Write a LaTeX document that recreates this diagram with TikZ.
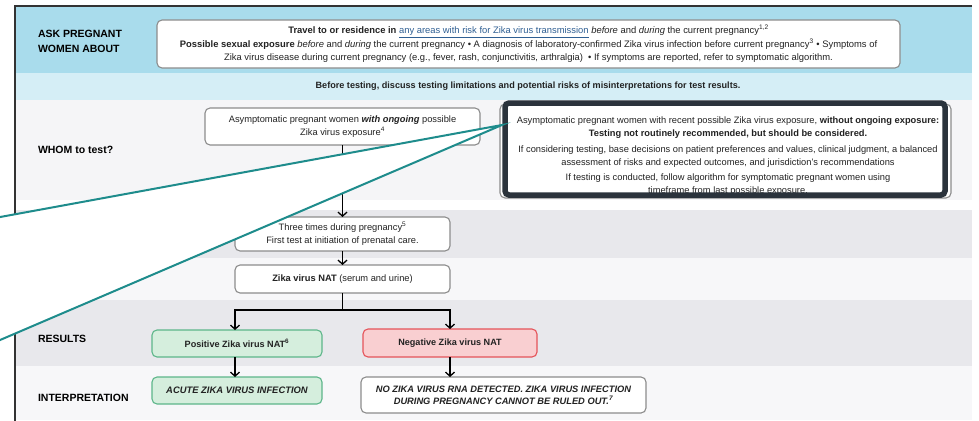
\documentclass[tikz,border=0pt]{standalone}
\usepackage{fontspec}
\setmainfont{Liberation Sans}
\usetikzlibrary{arrows.meta}

\definecolor{bandblue}{HTML}{A9DCEC}
\definecolor{bandlightblue}{HTML}{D5EEF6}
\definecolor{bandwhom}{HTML}{F5F5F7}
\definecolor{bandgrey}{HTML}{E8E8EC}
\definecolor{bandpale}{HTML}{F7F7F9}
\definecolor{framecol}{HTML}{333333}
\definecolor{boxgrey}{HTML}{8C8C8C}
\definecolor{inkcol}{HTML}{222222}
\definecolor{linkblue}{HTML}{2F5F93}
\definecolor{posfill}{HTML}{D5EEDD}
\definecolor{posline}{HTML}{5DB68A}
\definecolor{negfill}{HTML}{F9CFD1}
\definecolor{negline}{HTML}{E5545A}
\definecolor{focusdark}{HTML}{2B333C}
\definecolor{calloutteal}{HTML}{1E8C8C}

\newcommand{\linktext}[1]{\textcolor{linkblue}{\underline{#1}}}

\begin{document}
\begin{tikzpicture}[x=1pt,y=-1pt,
  every node/.style={inner sep=0pt, outer sep=0pt, text=inkcol},
  rowlabel/.style={anchor=west, align=left, text=black, font=\bfseries\fontsize{10.5}{15}\selectfont},
  flowbox/.style={draw=boxgrey, line width=1.1pt, rounded corners=5pt, fill=white, align=center, font=\fontsize{9.3}{13}\selectfont},
  posbox/.style={flowbox, draw=posline, fill=posfill},
  negbox/.style={flowbox, draw=negline, fill=negfill},
  flow/.style={line width=1.3pt, -{Straight Barb[length=4pt,width=9pt]}},
  callout/.style={draw=calloutteal, line width=2pt, line join=miter}]

\useasboundingbox (0,0) rectangle (979,420);
\clip (0,0) rectangle (979,420);
\fill[white] (0,0) rectangle (979,420);

% horizontal bands of the chart
\fill[bandblue]      (16,7)   rectangle (972,73);
\fill[bandlightblue] (16,73)  rectangle (972,100);
\fill[bandwhom]      (16,100) rectangle (972,200);
\fill[bandgrey]      (16,210) rectangle (972,258);
\fill[bandpale]      (16,258) rectangle (972,300);
\fill[bandgrey]      (16,300) rectangle (972,366);
\fill[bandpale]      (16,366) rectangle (972,420);

% frame
\draw[framecol, line width=1.5pt] (972,6) -- (15,6) -- (15,421);

% row labels
\node[rowlabel] (lblask) at (38,41) {ASK PREGNANT\\WOMEN ABOUT};
\node[rowlabel] (lblwhom) at (38,150) {WHOM to test?};
\node[rowlabel] (lblres) at (38,339) {RESULTS};
\node[rowlabel] (lblint) at (38,398) {INTERPRETATION};

% questions to ask
\node[flowbox, minimum width=743pt, minimum height=48pt, font=\fontsize{9.4}{13.5}\selectfont] (ask) at (528.5,44) {%
\textbf{Travel to or residence in} \linktext{any areas with risk for Zika virus transmission} \textit{before} and \textit{during} the current pregnancy\textsuperscript{1,2}\\
\textbf{Possible sexual exposure} \textit{before} and \textit{during} the current pregnancy • A diagnosis of laboratory-confirmed Zika virus infection before current pregnancy\textsuperscript{3} • Symptoms of\\
Zika virus disease during current pregnancy (e.g., fever, rash, conjunctivitis, arthralgia) \ • If symptoms are reported, refer to symptomatic algorithm.};

\node[font=\bfseries\fontsize{9.1}{10}\selectfont] (before) at (528,86.5) {Before testing, discuss testing limitations and potential risks of misinterpretations for test results.};

% whom to test
\node[flowbox, minimum width=275pt, minimum height=37pt] (ongoing) at (342.5,126.5) {%
Asymptomatic pregnant women \textbf{\textit{with ongoing}} possible\\Zika virus exposure\textsuperscript{4}};

\node[flowbox, minimum width=451pt, minimum height=94pt] (recent) at (725.5,151) {};
\node[align=center, font=\fontsize{9.3}{13}\selectfont] (recenttext) at (728,156.3) {%
Asymptomatic pregnant women with recent possible Zika virus exposure, \textbf{without ongoing exposure:}\\
\textbf{Testing not routinely recommended, but should be considered.}\\[2.5pt]
If considering testing, base decisions on patient preferences and values, clinical judgment, a balanced\\
assessment of risks and expected outcomes, and jurisdiction’s recommendations\\[2.5pt]
If testing is conducted, follow algorithm for symptomatic pregnant women using\\
timeframe from last possible exposure.};

% testing steps
\node[flowbox, minimum width=215pt, minimum height=34pt] (three) at (342.5,234) {%
Three times during pregnancy\textsuperscript{5}\\First test at initiation of prenatal care.};
\node[flowbox, minimum width=215pt, minimum height=28pt] (nat) at (342.5,279) {%
\textbf{Zika virus NAT} (serum and urine)};

% results
\node[posbox, minimum width=170pt, minimum height=27pt, font=\bfseries\fontsize{9.1}{10}\selectfont] (pos) at (237,343.5) {Positive Zika virus NAT\textsuperscript{6}};
\node[negbox, minimum width=174pt, minimum height=28pt, font=\bfseries\fontsize{9.1}{10}\selectfont] (neg) at (450,343) {Negative Zika virus NAT};

% interpretation
\node[posbox, minimum width=170pt, minimum height=27pt, font=\bfseries\itshape\fontsize{9.4}{10}\selectfont] (acute) at (237,390.5) {ACUTE ZIKA VIRUS INFECTION};
\node[flowbox, minimum width=285pt, minimum height=36pt, font=\bfseries\itshape\fontsize{9.3}{12}\selectfont] (nozika) at (503.5,395) {%
NO ZIKA VIRUS RNA DETECTED. ZIKA VIRUS INFECTION\\DURING PREGNANCY CANNOT BE RULED OUT.\textsuperscript{7}};

% connectors
\coordinate (split) at (342.5,310);
\draw[flow] (ongoing.south) -- (three.north);
\draw[flow] (three.south) -- (nat.north);
\draw[line width=1.3pt] (nat.south) -- (split);
\draw[flow] (split) -| ([xshift=-2pt]pos.north);
\draw[flow] (split) -| (neg.north);
\draw[flow] ([xshift=-2pt]pos.south) -- ([xshift=-2pt]acute.north);
\draw[flow] (neg.south) -- (neg.south |- nozika.north);

% emphasis frame on the non-ongoing exposure box
\node[draw=focusdark, line width=5.5pt, rounded corners=4pt, minimum width=440pt, minimum height=92pt] (focus) at (725,149) {};

% callout wedge
\coordinate (apex) at (502,125);
\coordinate (wedgetop) at (-20,220.7);
\coordinate (wedgebot) at (-20,348.6);
\fill[white] (apex) -- (wedgetop) -- (wedgebot) -- cycle;
\draw[callout] (wedgetop) -- (apex) -- (wedgebot);

\end{tikzpicture}
\end{document}
